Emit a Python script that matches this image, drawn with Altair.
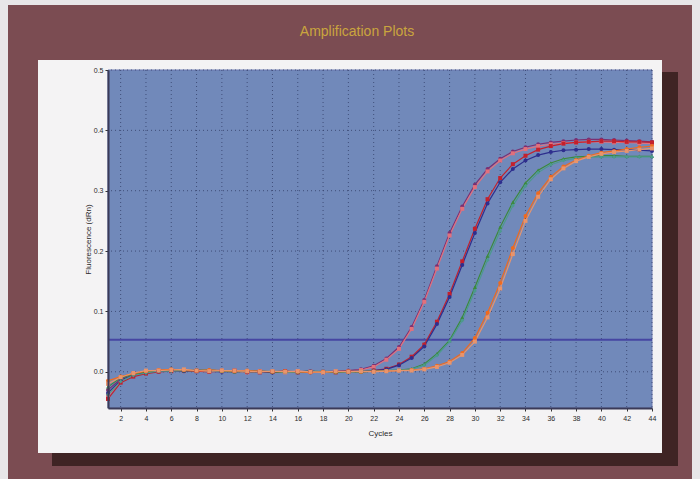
import altair as alt
import pandas as pd

title_text = ["Amplification Plots"]
cycles = list(range(1, 45))
x_ticks = list(range(2, 45, 2))
y_ticks = [0.0, 0.1, 0.2, 0.3, 0.4, 0.5]
threshold = [0.053]

series_names = ["A1", "A2", "B1", "B2", "C1", "C2", "D1", "D2"]
series_colors = ["#7a2f72", "#e2707c", "#c4202c", "#2e2e8e", "#3c8a3c", "#4c9a8e", "#f06a1e", "#e8946c"]
series_shapes = ["circle", "square", "square", "circle", "triangle-up", "diamond", "circle", "square"]

A1 = [-0.030, -0.012, -0.006, -0.002, 0.001, 0.002, 0.003, 0.001, 0.002, 0.001,
      0.000, 0.001, 0.000, -0.001, 0.000, 0.000, -0.001, 0.000, 0.001, 0.002,
      0.004, 0.010, 0.022, 0.041, 0.074, 0.119, 0.175, 0.230, 0.274, 0.310,
      0.336, 0.353, 0.365, 0.372, 0.377, 0.380, 0.382, 0.384, 0.385, 0.385,
      0.384, 0.383, 0.382, 0.381]
A2 = [-0.040, -0.015, -0.004, 0.000, 0.002, 0.003, 0.001, 0.002, 0.001, 0.002,
      0.001, -0.001, 0.001, 0.000, -0.001, 0.001, 0.000, -0.001, 0.000, 0.001,
      0.003, 0.008, 0.020, 0.038, 0.071, 0.116, 0.171, 0.226, 0.270, 0.306,
      0.332, 0.350, 0.362, 0.369, 0.374, 0.377, 0.379, 0.380, 0.381, 0.381,
      0.380, 0.380, 0.379, 0.378]
B1 = [-0.045, -0.018, -0.008, -0.003, 0.000, 0.001, 0.002, 0.001, 0.000, 0.001,
      0.002, 0.000, -0.001, 0.000, 0.001, -0.001, 0.000, 0.000, -0.001, 0.000,
      0.001, 0.002, 0.005, 0.012, 0.025, 0.045, 0.083, 0.129, 0.183, 0.237,
      0.286, 0.321, 0.344, 0.358, 0.368, 0.374, 0.378, 0.380, 0.381, 0.382,
      0.382, 0.381, 0.381, 0.380]
B2 = [-0.035, -0.014, -0.005, -0.001, 0.001, 0.002, 0.001, 0.003, 0.001, 0.000,
      0.001, 0.001, 0.000, -0.001, 0.000, 0.000, 0.001, -0.001, 0.000, 0.001,
      0.001, 0.002, 0.004, 0.011, 0.023, 0.042, 0.079, 0.124, 0.177, 0.230,
      0.279, 0.314, 0.336, 0.350, 0.359, 0.364, 0.367, 0.368, 0.369, 0.369,
      0.368, 0.368, 0.367, 0.366]
C1 = [-0.025, -0.010, -0.004, 0.000, 0.002, 0.003, 0.002, 0.002, 0.003, 0.001,
      0.000, 0.001, 0.001, 0.000, -0.001, 0.000, 0.001, 0.000, -0.001, 0.000,
      0.000, 0.001, 0.002, 0.003, 0.005, 0.013, 0.030, 0.052, 0.090, 0.140,
      0.192, 0.240, 0.281, 0.313, 0.334, 0.346, 0.353, 0.356, 0.357, 0.358,
      0.358, 0.357, 0.357, 0.357]
C2 = [-0.038, -0.016, -0.006, -0.002, 0.001, 0.001, 0.002, 0.003, 0.001, 0.002,
      0.001, 0.000, 0.000, 0.001, 0.000, -0.001, 0.000, 0.001, 0.000, 0.000,
      0.001, 0.001, 0.002, 0.003, 0.004, 0.011, 0.027, 0.050, 0.085, 0.134,
      0.185, 0.233, 0.275, 0.308, 0.330, 0.343, 0.350, 0.354, 0.355, 0.356,
      0.356, 0.356, 0.356, 0.356]
D1 = [-0.015, -0.008, -0.003, 0.001, 0.003, 0.004, 0.003, 0.002, 0.003, 0.002,
      0.001, 0.002, 0.001, 0.000, 0.001, 0.000, -0.001, 0.000, 0.000, 0.001,
      0.000, 0.001, 0.001, 0.002, 0.003, 0.005, 0.010, 0.017, 0.031, 0.056,
      0.098, 0.147, 0.205, 0.258, 0.296, 0.323, 0.340, 0.351, 0.358, 0.363,
      0.366, 0.369, 0.372, 0.374]
D2 = [-0.020, -0.009, -0.002, 0.002, 0.002, 0.003, 0.004, 0.002, 0.001, 0.002,
      0.002, 0.001, 0.000, 0.001, 0.000, 0.001, 0.000, -0.001, 0.001, 0.000,
      0.001, 0.000, 0.001, 0.002, 0.002, 0.004, 0.008, 0.015, 0.028, 0.050,
      0.090, 0.138, 0.195, 0.250, 0.290, 0.319, 0.337, 0.349, 0.356, 0.361,
      0.364, 0.366, 0.368, 0.370]

series_values = [A1, A2, B1, B2, C1, C2, D1, D2]

rows = []
for name, vals in zip(series_names, series_values):
    for c, v in zip(cycles, vals):
        rows.append({"series": name, "cycle": c, "value": v})
df = pd.DataFrame(rows)

W, H = 544, 338
FONT = "Liberation Sans"

xscale = alt.Scale(domain=[1, 44], nice=False, zero=False)
yscale = alt.Scale(domain=[-0.06, 0.5], nice=False, zero=False)
color_scale = alt.Scale(domain=series_names, range=series_colors)
shape_scale = alt.Scale(domain=series_names, range=series_shapes)

xaxis = alt.Axis(values=x_ticks, grid=False, labelFontSize=7, labelColor="#2a2a2a",
                 labelFont=FONT, tickSize=3, tickColor="#333", domainColor="#3a3a58",
                 domainWidth=2, title="Cycles", titleFontSize=8, titleFont=FONT,
                 titleFontWeight="normal", titleColor="#2a2a2a", titleY=25,
                 titleBaseline="middle", labelPadding=3, zindex=2,
                 labelOverlap=False, labelFlush=False)
yaxis = alt.Axis(values=y_ticks, format=".1f", grid=False, labelFontSize=7,
                 labelColor="#2a2a2a", labelFont=FONT, tickSize=3, tickColor="#333",
                 domainColor="#3a3a58", domainWidth=2, title="Fluorescence (dRn)",
                 titleFontSize=8, titleFont=FONT, titleFontWeight="normal",
                 titleColor="#2a2a2a", titleX=-20, titleY=H / 2, titleAngle=-90,
                 titleAlign="center", titleBaseline="middle", labelPadding=2, zindex=2,
                 labelOverlap=False, labelFlush=False)

one = alt.Data(values=[{}])

def panel(x, x2, y, y2, fill, stroke=None):
    kw = {"fill": fill}
    if stroke:
        kw["stroke"] = stroke
        kw["strokeWidth"] = 1
    return alt.Chart(one).mark_rect(**kw).encode(
        x=alt.value(x), x2=alt.value(x2), y=alt.value(y), y2=alt.value(y2)
    )

brown = panel(-100, 584, -65, 409, "#7b4c52")
shadow = panel(-56, 570, 2, 396, "#3f2424")
white = panel(-70, 554, -10, 383, "#f4f3f4")
plotbg = panel(0, W, 0, H, "#7189ba", "#6a78b0")

title = alt.Chart(pd.DataFrame({"t": title_text})).mark_text(
    font=FONT, fontSize=14, color="#caa53e", align="center", baseline="middle"
).encode(text="t:N", x=alt.value(249), y=alt.value(-38))

xgrid = alt.Chart(pd.DataFrame({"t": x_ticks})).mark_rule(
    color="#34406a", strokeWidth=0.9, strokeDash=[1, 3], opacity=0.9
).encode(x=alt.X("t:Q", scale=xscale, axis=xaxis))
ygrid = alt.Chart(pd.DataFrame({"t": y_ticks})).mark_rule(
    color="#34406a", strokeWidth=0.9, strokeDash=[1, 3], opacity=0.9
).encode(y=alt.Y("t:Q", scale=yscale, axis=yaxis))

thr = alt.Chart(pd.DataFrame({"t": threshold})).mark_rule(
    color="#4646a2", strokeWidth=2
).encode(y=alt.Y("t:Q", scale=yscale, axis=yaxis))

lines = alt.Chart(df).mark_line(strokeWidth=1.2).encode(
    x=alt.X("cycle:Q", scale=xscale, axis=xaxis),
    y=alt.Y("value:Q", scale=yscale, axis=yaxis),
    color=alt.Color("series:N", scale=color_scale, legend=None),
    detail="series:N",
)
points = alt.Chart(df).mark_point(filled=True, size=16, opacity=1).encode(
    x=alt.X("cycle:Q", scale=xscale, axis=xaxis),
    y=alt.Y("value:Q", scale=yscale, axis=yaxis),
    color=alt.Color("series:N", scale=color_scale, legend=None),
    shape=alt.Shape("series:N", scale=shape_scale, legend=None),
)

chart = alt.layer(
    brown, shadow, white, plotbg, title, xgrid, ygrid, thr, lines, points
).properties(
    width=W, height=H,
    padding={"left": 108, "top": 70, "right": 48, "bottom": 71},
    autosize=alt.AutoSizeParams(type="none"),
    background="#e8e6e8",
).configure_view(stroke=None).configure_axis(labelOverlap=False, labelFlush=False)

chart.save("out.html", embed_options={"renderer": "svg", "actions": False})
